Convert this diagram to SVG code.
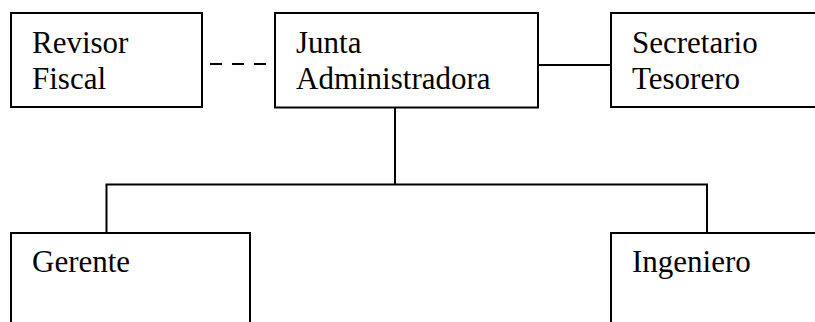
<svg xmlns="http://www.w3.org/2000/svg" width="815" height="322" viewBox="0 0 815 322">
<style>
.box{fill:#fff;stroke:#000;stroke-width:2}
.ln{fill:none;stroke:#000;stroke-width:2}
.dash{stroke-dasharray:12 10}
</style>
<rect width="815" height="322" fill="#fff"/>
<g id="connectors">
<line class="ln dash" x1="210" y1="64" x2="275" y2="64"/>
<line class="ln" x1="538" y1="65" x2="611" y2="65"/>
<polyline class="ln" points="395,108 395,184.5"/>
<polyline class="ln" points="106.5,233 106.5,184.5 707,184.5 707,233"/>
</g>
<g font-family="Liberation Serif, DejaVu Serif, serif" font-size="31" fill="#000">
<g id="revisor">
<rect class="box" x="11" y="13" width="191" height="94"/>
<text x="32" y="53">Revisor</text>
<text x="32" y="89">Fiscal</text>
</g>
<g id="junta">
<rect class="box" x="275" y="13" width="263" height="94.5"/>
<text x="296" y="53">Junta</text>
<text x="296" y="89">Administradora</text>
</g>
<g id="secretario">
<rect class="box" x="611" y="13" width="230" height="94"/>
<text x="632" y="53">Secretario</text>
<text x="632" y="89">Tesorero</text>
</g>
<g id="gerente">
<rect class="box" x="11" y="233" width="239" height="120"/>
<text x="32" y="272">Gerente</text>
</g>
<g id="ingeniero">
<rect class="box" x="611" y="233" width="230" height="120"/>
<text x="632" y="272">Ingeniero</text>
</g>
</g>
</svg>
